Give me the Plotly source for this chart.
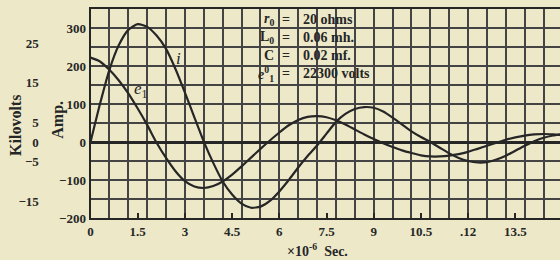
import plotly.graph_objects as go

# ---------------- data ----------------
t_us = [0.0, 0.3, 0.6, 0.9, 1.2, 1.5, 1.8, 2.1, 2.4, 2.7,
        3.0, 3.3, 3.6, 3.9, 4.2, 4.5, 4.8, 5.1, 5.4, 5.7,
        6.0, 6.3, 6.6, 6.9, 7.2, 7.5, 7.8, 8.1, 8.4, 8.7,
        9.0, 9.3, 9.6, 9.9, 10.2, 10.5, 10.8, 11.1, 11.4, 11.7,
        12.0, 12.3, 12.6, 12.9, 13.2, 13.5, 13.8, 14.1, 14.4, 14.7, 15.0]

current_amp = [0, 100, 190, 255, 295, 310, 303, 280, 245, 192,
               130, 65, 1, -55, -104, -138, -162, -173, -170, -155,
               -130, -100, -67, -37, -9, 22, 53, 74, 87, 92,
               90, 80, 64, 46, 28, 13, 0, -15, -30, -42,
               -50, -54, -53, -46, -36, -23, -10, 2, 11, 17, 21]

# e1 plotted on the Amp. scale (its own kilovolt scale on the far left)
e1_amp = [222, 212, 190, 162, 128, 88, 45, -2, -42, -77,
          -103, -117, -121, -116, -104, -86, -64, -41, -18, 4,
          25, 44, 58, 66, 68, 65, 57, 46, 33, 20,
          8, -3, -13, -22, -29, -35, -38, -38, -36, -32,
          -26, -18, -10, -2, 6, 12, 17, 20, 21, 20, 18]

x_ticks = [0, 1.5, 3, 4.5, 6, 7.5, 9, 10.5, 12, 13.5]
x_tick_labels = ["0", "1.5", "3", "4.5", "6", "7.5", "9", "10.5", ".12", "13.5"]
amp_ticks = [-200, -100, 0, 100, 200, 300]
kv_ticks = [-15, -5, 0, 5, 15, 25]

param_symbols = ["<i>r</i><sub>0</sub>", "L<sub>0</sub>", "C", "<i>e</i><sup>0</sup><sub>1</sub>"]
param_values = ["20 ohms", "0.06 mh.", "0.02 mf.", "22300 volts"]

# ---------------- styling ----------------
BG = "#EDE9C8"
INK = "#262626"
GRID = "#444444"
FONT = "Liberation Serif"
W, H = 560, 260
PLOT_LEFT = 88
M_TOP, M_BOT = 9, 42
PLOT_H = H - M_TOP - M_BOT

fig = go.Figure()
fig.add_trace(go.Scatter(x=t_us, y=current_amp, mode="lines",
                         line=dict(color=INK, width=2.2, shape="spline", smoothing=0.6),
                         name="i", hoverinfo="skip", showlegend=False))
fig.add_trace(go.Scatter(x=t_us, y=e1_amp, mode="lines",
                         line=dict(color=INK, width=2.2, shape="spline", smoothing=0.6),
                         name="e1", hoverinfo="skip", showlegend=False))
fig.add_trace(go.Scatter(x=[None], y=[None], yaxis="y2", showlegend=False, hoverinfo="skip"))

tf = dict(family=FONT, size=13, color=INK, weight="bold")

fig.update_layout(
    width=W, height=H,
    margin=dict(l=0, r=0, t=M_TOP, b=M_BOT, pad=0),
    paper_bgcolor=BG, plot_bgcolor=BG,
    xaxis=dict(domain=[PLOT_LEFT / W, 1], range=[0, 14.92],
               tickvals=x_ticks, ticktext=x_tick_labels, tickfont=tf,
               showgrid=False, zeroline=False,
               ticks="inside", ticklen=5, tickwidth=1.5, tickcolor=INK,
               showline=True, mirror=True, linecolor=INK, linewidth=2,
               minor=dict(tick0=0, dtick=0.6, showgrid=True, gridcolor=GRID, gridwidth=1.6, ticks="")),
    yaxis=dict(range=[-200, 350], tickvals=amp_ticks, tickfont=tf,
               showgrid=True, gridcolor=GRID, gridwidth=1.6,
               zeroline=True, zerolinecolor=INK, zerolinewidth=2.5,
               showline=True, linecolor=INK, linewidth=2, ticks="",
               minor=dict(tick0=0, dtick=50, showgrid=True, gridcolor=GRID, gridwidth=1.6, ticks="")),
    yaxis2=dict(overlaying="y", anchor="free", position=36 / W, side="left",
                range=[-19.24, 33.67], tickvals=kv_ticks, tickfont=tf,
                showgrid=False, zeroline=False, showline=False, ticks=""),
)

def py(px_y):
    return (H - M_BOT - px_y) / PLOT_H

af = dict(family=FONT, size=16, color=INK, weight="bold")
ann = []
ann.append(dict(text="Kilovolts", xref="paper", yref="paper", x=12 / W, y=py(125),
                xanchor="center", yanchor="middle", textangle=-90, showarrow=False, font=af))
ann.append(dict(text="Amp.", xref="paper", yref="paper", x=55 / W, y=py(120),
                xanchor="center", yanchor="middle", textangle=-90, showarrow=False, font=af))
ann.append(dict(text="×10<sup>-6</sup>  Sec.", xref="paper", yref="paper", x=316 / W, y=py(250),
                xanchor="center", yanchor="middle", showarrow=False,
                font=dict(family=FONT, size=14, color=INK, weight="bold")))
# curve labels
ann.append(dict(text="<i>i</i>", xref="x", yref="y", x=2.8, y=221, showarrow=False,
                font=dict(family=FONT, size=17, color=INK)))
ann.append(dict(text="<i>e</i><sub>1</sub>", xref="x", yref="y", x=1.6, y=136, showarrow=False,
                font=dict(family=FONT, size=17, color=INK)))
# parameter table
tfont = dict(family=FONT, size=14, color=INK, weight="bold")
row_y = [323, 275, 228, 180]
for sym, val, yy in zip(param_symbols, param_values, row_y):
    ann.append(dict(text=sym, xref="x", yref="y", x=5.9, y=yy, xanchor="right", showarrow=False, font=tfont))
    ann.append(dict(text="=", xref="x", yref="y", x=6.2, y=yy, xanchor="center", showarrow=False, font=tfont))
    ann.append(dict(text=val, xref="x", yref="y", x=6.7, y=yy, xanchor="left", showarrow=False, font=tfont))
fig.update_layout(annotations=ann)

fig.write_html("out.html", config={"displayModeBar": False},
               post_script="document.body.style.margin='0';document.body.style.overflow='hidden';")
